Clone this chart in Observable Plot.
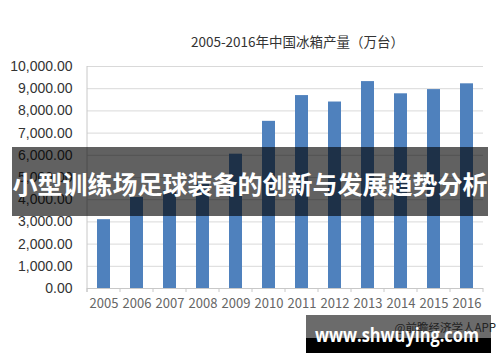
<!DOCTYPE html>
<html>
<head>
<meta charset="utf-8">
<script src="https://cdn.jsdelivr.net/npm/d3@7"></script>
<script src="https://cdn.jsdelivr.net/npm/@observablehq/plot@0.6"></script>
<style>
  html, body { margin: 0; padding: 0; background: #fff; }
  #chart svg { display: block; }
</style>
</head>
<body>
<div id="chart"></div>
<script>
const title = "2005-2016年中国冰箱产量（万台）";
const years = ["2005","2006","2007","2008","2009","2010","2011","2012","2013","2014","2015","2016"];
const output = [3100, 4100, 4400, 4800, 6050, 7530, 8690, 8400, 9320, 8770, 8960, 9220];
const yTicks = [0, 1000, 2000, 3000, 4000, 5000, 6000, 7000, 8000, 9000, 10000];
const bannerText = "小型训练场足球装备的创新与发展趋势分析";
const siteText = "www.shwuying.com";
const sourceText = "@前瞻经济学人APP";

const data = years.map((year, i) => ({year, value: output[i]}));

const plot = Plot.plot({
  width: 500,
  height: 362,
  marginLeft: 87,
  marginRight: 17,
  marginTop: 66,
  marginBottom: 74,
  style: {background: "#fff", fontFamily: "'Liberation Sans', Arial, sans-serif", color: "#333"},
  x: {domain: years, paddingInner: 0.6, paddingOuter: 0.3, label: null},
  y: {domain: [0, 10000], label: null},
  marks: [
    Plot.gridY(yTicks, {stroke: "#d9d9d9", strokeOpacity: 1}),
    Plot.barY(data, {x: "year", y: "value", fill: "#4f81bd"}),
    Plot.ruleY([0], {stroke: "#c8c8c8"}),
    Plot.axisY(yTicks, {tickSize: 0, tickPadding: 15, tickFormat: d3.format(",.2f"), fontSize: 14, fill: "#333", label: null}),
    Plot.axisX({tickSize: 0, tickPadding: 10, fontSize: 13, fill: "#666", fontFamily: "'Noto Sans CJK SC', sans-serif", label: null}),
    Plot.text([title], {frameAnchor: "top", dy: -24, lineAnchor: "middle", fontSize: 13.5, fill: "#333", fontFamily: "'Noto Sans CJK SC', sans-serif", dx: 12})
  ]
});

const svg = d3.select(plot);
const xs = plot.scale("x");
const ml = 87, baseY = 288, topY = 66;

// left axis line
svg.append("line").attr("x1", ml).attr("x2", ml).attr("y1", topY).attr("y2", baseY + 4)
  .attr("stroke", "#c8c8c8");
// category boundary ticks
const step = xs.step;
for (let i = 0; i <= years.length; i++) {
  const x = ml + i * step;
  svg.append("line").attr("x1", x).attr("x2", x).attr("y1", baseY).attr("y2", baseY + 4)
    .attr("stroke", "#c8c8c8");
}

// banner overlay
svg.append("rect").attr("x", 12).attr("y", 147).attr("width", 476).attr("height", 69)
  .attr("fill", "rgba(0,0,0,0.62)");
svg.append("text").attr("x", 250).attr("y", 187).attr("text-anchor", "middle")
  .attr("dominant-baseline", "middle")
  .attr("font-family", "'Noto Sans CJK SC', sans-serif").attr("font-weight", "bold")
  .attr("font-size", 25).attr("fill", "#fff").text(bannerText);

// bottom site box
svg.append("rect").attr("x", 306).attr("y", 315).attr("width", 185).attr("height", 23).attr("fill", "#6b6b6b");
svg.append("rect").attr("x", 306).attr("y", 338).attr("width", 185).attr("height", 15).attr("fill", "#000");
svg.append("text").attr("x", 496).attr("y", 332).attr("text-anchor", "end")
  .attr("font-family", "'Noto Sans CJK SC', sans-serif").attr("font-size", 11.5)
  .attr("fill", "#222").text(sourceText);
svg.append("text").attr("x", 397).attr("y", 342).attr("text-anchor", "middle")
  .attr("font-family", "'Open Sans', 'Liberation Sans', sans-serif").attr("font-weight", "bold")
  .attr("font-size", 20).attr("textLength", 164).attr("lengthAdjust", "spacingAndGlyphs")
  .attr("fill", "#fff").text(siteText);

document.getElementById("chart").appendChild(plot);
</script>
</body>
</html>
